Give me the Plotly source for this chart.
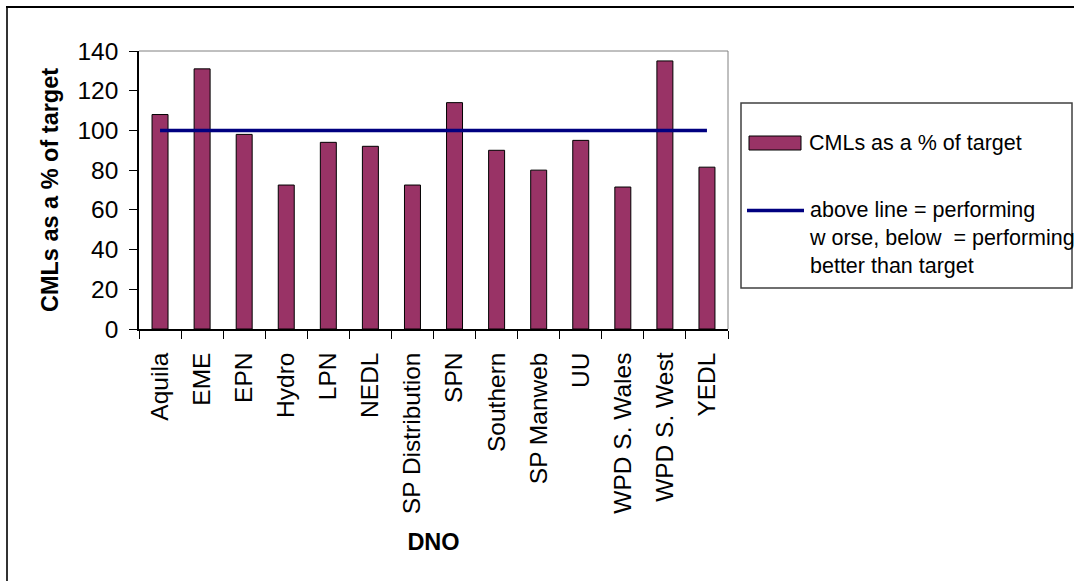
import plotly.graph_objects as go

categories = ["Aquila", "EME", "EPN", "Hydro", "LPN", "NEDL", "SP Distribution",
              "SPN", "Southern", "SP Manweb", "UU", "WPD S. Wales", "WPD S. West", "YEDL"]
cml_pct = [108, 131, 98, 72.5, 94, 92, 72.5, 114, 90, 80, 95, 71.5, 135, 81.5]
target_line = [100] * len(categories)

bar_name = "CMLs as a % of target"
line_name = "above line = performing<br>w orse, below  = performing<br>better than target"

W, H = 1074, 581
L, R, T, B = 139, 728, 51, 329

FONT = "Liberation Sans, Arial, sans-serif"
TICK_SIZE = 24.5
TITLE_SIZE = 23.5
LEG_SIZE = 21.5

fig = go.Figure()
fig.add_trace(go.Bar(x=categories, y=cml_pct, name=bar_name, width=0.38,
                     marker=dict(color="#993366", line=dict(color="#000000", width=1))))
fig.add_trace(go.Scatter(x=categories, y=target_line, mode="lines", name="target",
                         line=dict(color="#000080", width=3.5)))

def ax(xpix):
    return (xpix - L) / (R - L)
def ay(ypix):
    return (B - ypix) / (B - T)

shapes = [
    # outer chart frame (left & top)
    dict(type="line", xref="paper", yref="paper", x0=ax(7), x1=ax(7), y0=ay(7), y1=ay(600),
         line=dict(color="#333333", width=2)),
    dict(type="line", xref="paper", yref="paper", x0=ax(6), x1=ax(1080), y0=ay(7), y1=ay(7),
         line=dict(color="#000000", width=2)),
    # plot area top/right border
    dict(type="line", xref="paper", yref="paper", x0=0, x1=1, y0=1, y1=1,
         line=dict(color="#808080", width=1)),
    dict(type="line", xref="paper", yref="paper", x0=1, x1=1, y0=0, y1=1,
         line=dict(color="#808080", width=1)),
    # legend box
    dict(type="rect", xref="paper", yref="paper", x0=ax(741), x1=ax(1072), y0=ay(288), y1=ay(103),
         line=dict(color="#404040", width=1.5), fillcolor="white"),
    # legend bar swatch
    dict(type="rect", xref="paper", yref="paper", x0=ax(749), x1=ax(801), y0=ay(150), y1=ay(136),
         line=dict(color="#000000", width=1), fillcolor="#993366"),
    # legend line swatch
    dict(type="line", xref="paper", yref="paper", x0=ax(747), x1=ax(804), y0=ay(210.5), y1=ay(210.5),
         line=dict(color="#000080", width=3.5)),
]

annotations = [
    dict(text=bar_name, x=ax(807), y=ay(143), xref="paper", yref="paper",
         xanchor="left", yanchor="middle", showarrow=False,
         font=dict(family=FONT, size=LEG_SIZE, color="black")),
    dict(text=line_name, x=ax(807), y=ay(237.5), xref="paper", yref="paper",
         xanchor="left", yanchor="middle", align="left", showarrow=False,
         font=dict(family=FONT, size=LEG_SIZE, color="black")),
]

fig.update_layout(
    width=W, height=H,
    margin=dict(l=L, r=W - R, t=T, b=H - B),
    paper_bgcolor="white", plot_bgcolor="white",
    showlegend=False,
    font=dict(family=FONT, size=TICK_SIZE, color="black"),
    shapes=shapes,
    annotations=annotations,
    bargap=0.62,
)
fig.update_xaxes(
    type="category", tickangle=-90, tickson="boundaries",
    ticks="outside", ticklen=8, tickcolor="black", tickwidth=1,
    showline=True, linecolor="black", linewidth=1.5,
    showgrid=False, zeroline=False,
    tickfont=dict(family=FONT, size=TICK_SIZE),
    ticklabelstandoff=12,
    title=dict(text="<b>DNO</b>", font=dict(family=FONT, size=TITLE_SIZE), standoff=20),
)
fig.update_yaxes(
    range=[0, 140], dtick=20, tick0=0,
    ticks="outside", ticklen=8, tickcolor="black", tickwidth=1,
    showline=True, linecolor="black", linewidth=1.5,
    showgrid=False, zeroline=False,
    tickfont=dict(family=FONT, size=TICK_SIZE),
    ticklabelstandoff=6,
    title=dict(text="<b>CMLs as a % of target</b>", font=dict(family=FONT, size=TITLE_SIZE), standoff=12),
)

fig.write_html("out.html")
